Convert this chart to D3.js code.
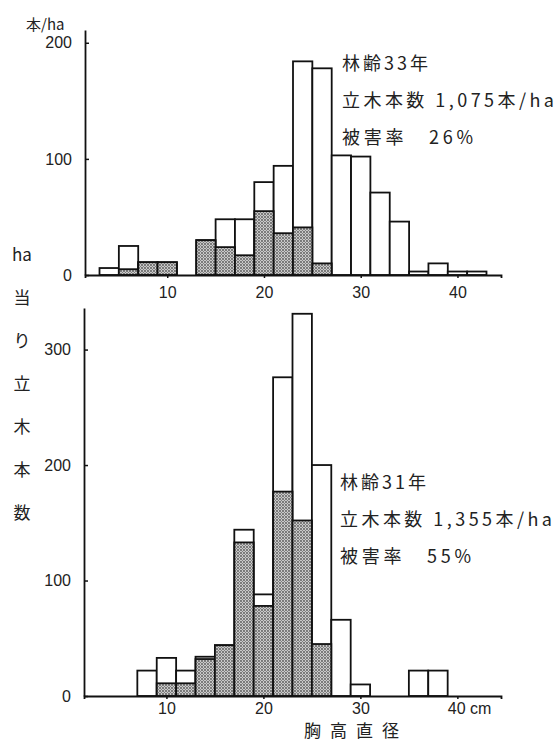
<!DOCTYPE html>
<html>
<head>
<meta charset="utf-8">
<script src="https://cdn.jsdelivr.net/npm/d3@7"></script>
<style>
  body { margin: 0; background: #fff; }
  svg text { fill: #222; }
</style>
</head>
<body>
<script>
// DBH class centres (cm), total stems/ha and damaged stems/ha
const topDbh = [4, 6, 8, 10, 14, 16, 18, 20, 22, 24, 26, 28, 30, 32, 34, 36, 38, 40, 42];
const topTotal = [6, 25, 11, 11, 30, 48, 48, 80, 94, 184, 178, 103, 102, 71, 46, 3, 10, 3, 3];
const topDamaged = [0, 5, 11, 11, 30, 24, 17, 55, 36, 41, 10, 0, 0, 0, 0, 0, 0, 0, 0];

const botDbh = [8, 10, 12, 14, 16, 18, 20, 22, 24, 26, 28, 30, 36, 38];
const botTotal = [22, 33, 22, 34, 44, 144, 88, 276, 331, 200, 66, 10, 22, 22];
const botDamaged = [0, 11, 11, 32, 44, 133, 78, 177, 152, 45, 0, 0, 0, 0];

const xTicks = [10, 20, 30, 40];
const topYTicks = [0, 100, 200];
const botYTicks = [0, 100, 200, 300];

const topNotes = ["林齢33年", "立木本数 1,075本/ha", "被害率　26%"];
const botNotes = ["林齢31年", "立木本数 1,355本/ha", "被害率　55%"];
const noteWidths = [86, 212, 131];
const yTitle = ["ha", "当", "り", "立", "木", "本", "数"];

const W = 557, H = 741;
const svg = d3.select("body").append("svg").attr("width", W).attr("height", H);

// stipple pattern for damaged stems
const pat = svg.append("defs").append("pattern")
  .attr("id", "dots").attr("patternUnits", "userSpaceOnUse")
  .attr("width", 3).attr("height", 3);
pat.append("rect").attr("width", 3).attr("height", 3).attr("fill", "#cacaca");
pat.append("circle").attr("cx", 1).attr("cy", 1).attr("r", 0.9).attr("fill", "#555");
pat.append("circle").attr("cx", 2.5).attr("cy", 2.5).attr("r", 0.6).attr("fill", "#777");

const font = "'Liberation Sans', Arial, sans-serif";
const jfont = "'Noto Sans CJK JP', sans-serif";

function panel(cfg) {
  const x = d3.scaleLinear().domain([1.5, 44.5]).range([cfg.left, 501]);
  const y = d3.scaleLinear().domain([0, cfg.ymax]).range([cfg.base, cfg.yTop]);
  const g = svg.append("g");

  const rows = cfg.dbh.map((d, i) => ({ d, total: cfg.total[i], dam: cfg.dam[i] }));

  g.selectAll(".tot").data(rows).join("rect")
    .attr("x", r => x(r.d - 1)).attr("width", r => x(r.d + 1) - x(r.d - 1))
    .attr("y", r => y(r.total)).attr("height", r => y(0) - y(r.total))
    .attr("fill", "#fff").attr("stroke", "#111").attr("stroke-width", 1.8);

  g.selectAll(".dam").data(rows.filter(r => r.dam > 0)).join("rect")
    .attr("x", r => x(r.d - 1)).attr("width", r => x(r.d + 1) - x(r.d - 1))
    .attr("y", r => y(r.dam)).attr("height", r => y(0) - y(r.dam))
    .attr("fill", "url(#dots)").attr("stroke", "#111").attr("stroke-width", 1.8);

  // x axis
  const xa = g.append("g").attr("transform", `translate(0,${cfg.base})`)
    .call(d3.axisBottom(x).tickValues(xTicks).tickSize(3).tickPadding(cfg.xPad)
      .tickFormat(cfg.xFmt));
  xa.select(".domain").attr("stroke", "#111").attr("stroke-width", 1.8);
  xa.selectAll(".tick line").attr("stroke", "#111").attr("stroke-width", 1.5);
  xa.selectAll("text").attr("font-family", font).attr("font-size", 16).attr("fill", "#222");
  xa.selectAll("text").filter(d => d === 40 && cfg.cm)
    .attr("text-anchor", "start").attr("dx", -10);

  // y axis
  const ya = g.append("g").attr("transform", `translate(${cfg.left},0)`)
    .call(d3.axisLeft(y).tickValues(cfg.yTicks).tickSizeInner(-4).tickSizeOuter(0).tickPadding(13));
  ya.select(".domain").attr("stroke", "#111").attr("stroke-width", 1.8);
  ya.selectAll(".tick line").attr("stroke", "#111").attr("stroke-width", 1.5);
  ya.selectAll("text").attr("font-family", font).attr("font-size", 16).attr("fill", "#222");

  // annotations
  g.selectAll(".note").data(cfg.notes).join("text")
    .attr("x", cfg.noteX).attr("y", (d, i) => cfg.noteY + i * 37)
    .attr("font-family", jfont).attr("font-size", 18)
    .attr("textLength", (d, i) => noteWidths[i]).attr("lengthAdjust", "spacing")
    .text(d => d);
}

panel({ dbh: topDbh, total: topTotal, dam: topDamaged, left: 85, base: 275, ymax: 211, yTop: 30,
  yTicks: topYTicks, notes: topNotes, noteX: 342, noteY: 70, xPad: 9, xFmt: d => d, cm: false });
panel({ dbh: botDbh, total: botTotal, dam: botDamaged, left: 84, base: 696, ymax: 336, yTop: 308,
  yTicks: botYTicks, notes: botNotes, noteX: 340, noteY: 489, xPad: 4,
  xFmt: d => d === 40 ? "40 cm" : d, cm: true });

// unit label and vertical y title
svg.append("text").attr("x", 26).attr("y", 30)
  .attr("font-family", jfont).attr("font-size", 15).text("本/ha");

svg.selectAll(".yt").data(yTitle).join("text")
  .attr("x", 22).attr("y", (d, i) => 261 + i * 43)
  .attr("text-anchor", "middle")
  .attr("font-family", jfont).attr("font-size", 17).text(d => d);

// x title
svg.append("text").attr("x", 356).attr("y", 737)
  .attr("text-anchor", "middle").attr("letter-spacing", 9)
  .attr("font-family", jfont).attr("font-size", 17).text("胸高直径");
</script>
</body>
</html>
